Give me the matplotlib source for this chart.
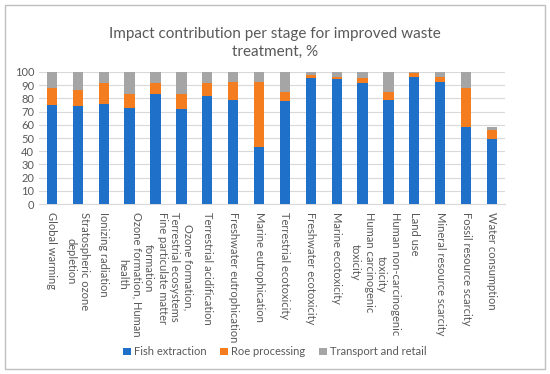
import matplotlib
matplotlib.use("Agg")
import matplotlib.pyplot as plt
from matplotlib.patches import Rectangle
import numpy as np

categories = [
    "Global warming", "Stratospheric ozone\ndepletion", "Ionizing radiation",
    "Ozone formation, Human\nhealth", "Fine particulate matter\nformation",
    "Ozone formation,\nTerrestrial ecosystems", "Terrestrial acidification",
    "Freshwater eutrophication", "Marine eutrophication", "Terrestrial ecotoxicity",
    "Freshwater ecotoxicity", "Marine ecotoxicity", "Human carcinogenic\ntoxicity",
    "Human non-carcinogenic\ntoxicity", "Land use", "Mineral resource scarcity",
    "Fossil resource scarcity", "Water consumption",
]
fish = [75, 74, 76, 73, 83, 72, 81.5, 79, 43, 78, 95.5, 95, 91.5, 79, 96, 92.5, 58, 49.5]
roe = [13, 12, 15.5, 10.5, 9, 11, 10.5, 13.5, 49.5, 7, 2, 1, 4, 6, 3, 3.5, 29.5, 6.5]
transport = [12, 14, 8.5, 16.5, 8, 17, 8, 7.5, 7.5, 15, 2.5, 4, 4.5, 15, 1, 4, 12.5, 2]
series_names = ["Fish extraction", "Roe processing", "Transport and retail"]
colors = ["#1F70C8", "#F47D20", "#A5A5A5"]
yticks = list(range(0, 101, 10))

plt.rcParams['font.family'] = ['Lato', 'DejaVu Sans']
txt = "#595959"

fig = plt.figure(figsize=(5.5, 3.74), dpi=100)
fig.patches.append(Rectangle((0.009, 0.013), 0.982, 0.974, transform=fig.transFigure,
                             fill=False, edgecolor="#BFBFBF", linewidth=1))
ax = fig.add_axes([0.071, 0.4545, 0.847, 0.353])

x = np.arange(len(categories))
w = 0.4
b1 = np.array(fish)
b2 = b1 + np.array(roe)
ax.bar(x, fish, w, color=colors[0], label=series_names[0], zorder=3)
ax.bar(x, roe, w, bottom=b1, color=colors[1], label=series_names[1], zorder=3)
ax.bar(x, transport, w, bottom=b2, color=colors[2], label=series_names[2], zorder=3)

ax.set_xlim(-0.5, len(categories) - 0.5)
ax.set_ylim(0, 100)
ax.set_yticks(yticks)
ax.yaxis.grid(True, color="#D9D9D9", linewidth=0.8, zorder=0)
ax.set_xticks(x)
ax.set_xticklabels(categories, rotation=-90, fontsize=8, color=txt,
                   ha="center", va="top", multialignment="center", linespacing=1.35)
ax.tick_params(axis="both", length=0, labelsize=8, labelcolor=txt)
ax.tick_params(axis="x", pad=6)
for s in ["top", "right", "left"]:
    ax.spines[s].set_visible(False)
ax.spines["bottom"].set_color("#D9D9D9")

fig.text(0.5, 0.885, "Impact contribution per stage for improved waste\ntreatment, %",
         ha="center", va="center", fontsize=11, color=txt, linespacing=1.35)

fig.legend(loc="center", bbox_to_anchor=(0.5, 0.059), ncol=3, frameon=False,
           fontsize=8, labelcolor=txt, handlelength=0.7, handleheight=0.7,
           handletextpad=0.3, columnspacing=1.2)

fig.savefig("out.png", dpi=100)
